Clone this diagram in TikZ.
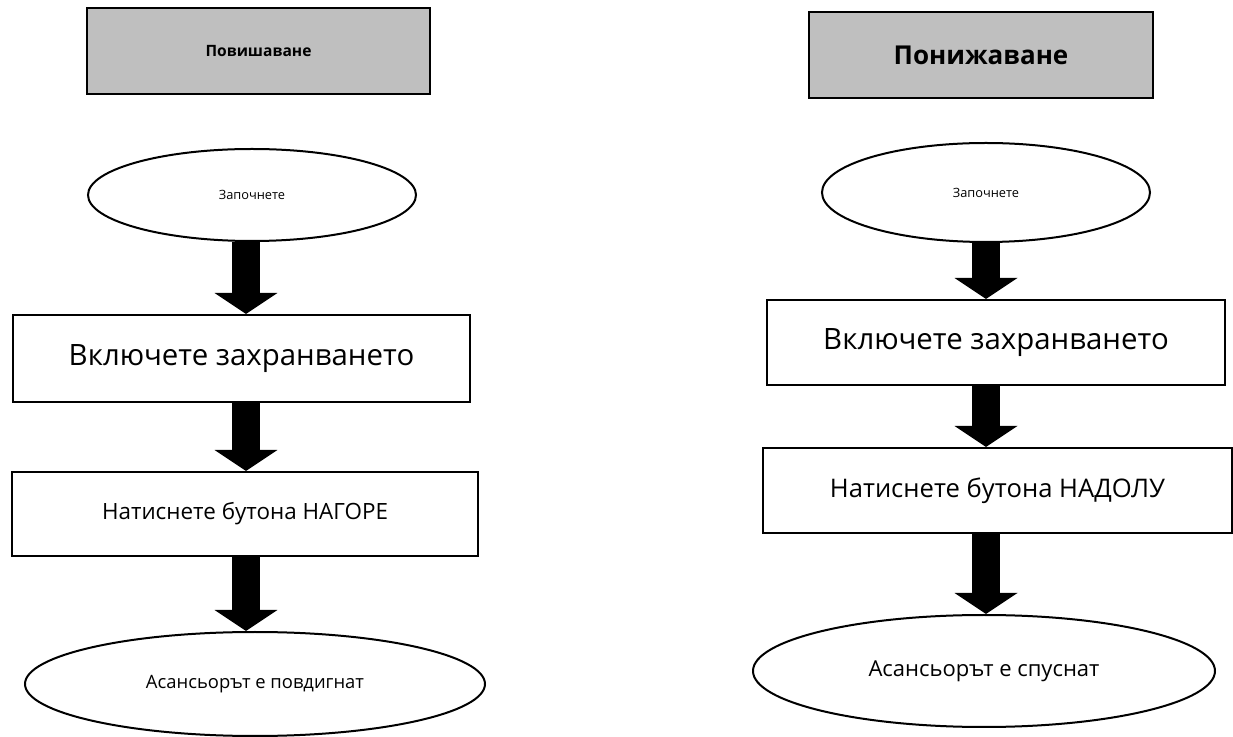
\documentclass[tikz,border=0pt]{standalone}
\usepackage{fontspec}
\setmainfont{Open Sans}
\usetikzlibrary{arrows.meta,shapes.geometric}
\tikzset{titlebox/.style={draw, line width=1.4pt, fill=black!25, font=\bfseries}}
\tikzset{stepbox/.style={draw, line width=1pt, fill=white}}
\tikzset{endpoint/.style={draw, ellipse, line width=1pt, fill=white, inner sep=0pt}}
\tikzset{blockarrow/.style={line width=14pt, -{Triangle[width=31pt,length=10.5pt]}}}
\newcommand{\fs}[1]{\fontsize{#1}{#1}\selectfont}

\begin{document}
\begin{tikzpicture}[x=0.5pt, y=-0.5pt]
      \useasboundingbox (0,0) rectangle (1233,737);

      % raising
      \node[titlebox, minimum width=171.5pt, minimum height=43pt, font=\bfseries\fs{7.8}] (upT) at (258.5,51) {Повишаване};
      \node[endpoint, minimum width=164pt, minimum height=46pt, font=\fs{6.4}] (upS) at (252,195) {Започнете};
      \node[stepbox, minimum width=228.5pt, minimum height=43.5pt, font=\fs{14.7}] (upP) at (241.5,358.5) {Включете захранването};
      \node[stepbox, minimum width=233pt, minimum height=42pt, font=\fs{11.2}] (upB) at (245,514) {Натиснете бутона НАГОРЕ};
      \node[endpoint, minimum width=230pt, minimum height=52pt, font=\fs{9.2}] (upE) at (255,684) {Асансьорът е повдигнат};
      \coordinate (upX) at (246,0);

      \draw[blockarrow] (upS.south -| upX) -- (upP.north -| upX);
      \draw[blockarrow] (upP.south -| upX) -- (upB.north -| upX);
      \draw[blockarrow] (upB.south -| upX) -- (upE.north -| upX);

      % lowering
      \node[titlebox, minimum width=172pt, minimum height=43pt, font=\bfseries\fs{13}] (dnT) at (981,55) {Понижаване};
      \node[endpoint, minimum width=164pt, minimum height=49.5pt, font=\fs{6.4}] (dnS) at (986,192.5) {Започнете};
      \node[stepbox, minimum width=229pt, minimum height=42.5pt, font=\fs{14.7}] (dnP) at (996,342.5) {Включете захранването};
      \node[stepbox, minimum width=234.5pt, minimum height=42.5pt, font=\fs{12.8}] (dnB) at (997.5,490.5) {Натиснете бутона НАДОЛУ};
      \node[endpoint, minimum width=231pt, minimum height=56pt, font=\fs{11}] (dnE) at (984,671) {Асансьорът е спуснат};
      \coordinate (dnX) at (986,0);

      \draw[blockarrow] (dnS.south -| dnX) -- (dnP.north -| dnX);
      \draw[blockarrow] (dnP.south -| dnX) -- (dnB.north -| dnX);
      \draw[blockarrow] (dnB.south -| dnX) -- (dnE.north -| dnX);
\end{tikzpicture}
\end{document}
